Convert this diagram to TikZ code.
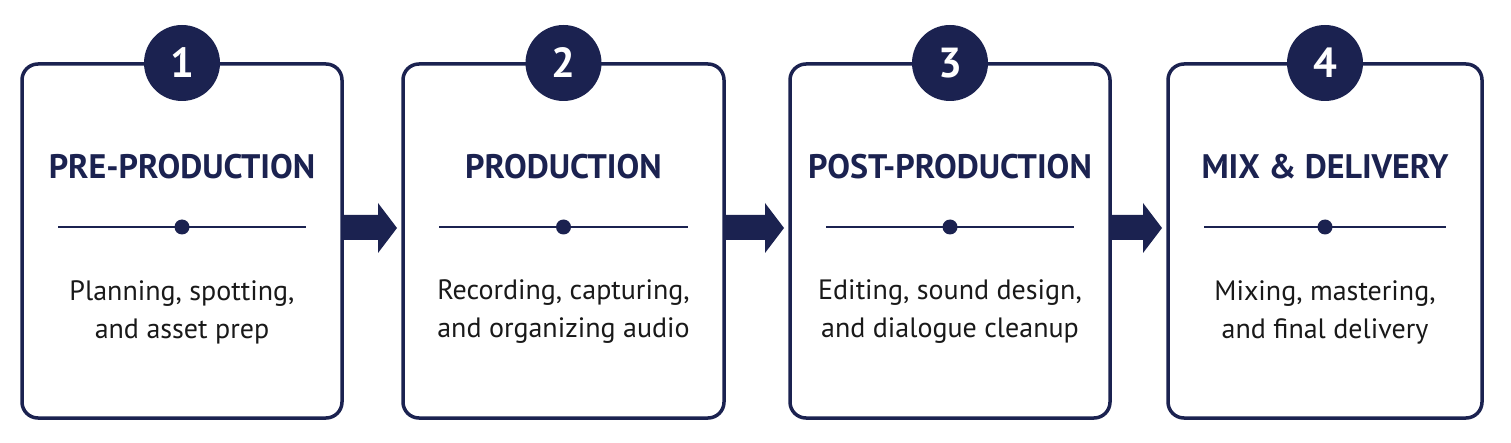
\documentclass[tikz,border=0pt]{standalone}
\usepackage{fontspec}
\setmainfont{PT Sans}
\begin{document}
\begin{tikzpicture}[x=1pt,y=-1pt,
  navy/.style={draw=nv,line width=3.5pt},
  box/.style={navy,rounded corners=16pt,fill=white},
  num/.style={circle,fill=nv,text=white,minimum size=76pt,inner sep=0pt,font=\fontsize{42}{42}\selectfont\bfseries},
  ttl/.style={text=nv,font=\fontsize{34}{34}\selectfont\bfseries},
  body/.style={text=black!90,align=center,font=\fontsize{28}{38}\selectfont},
  arr/.style={fill=nv}]
\definecolor{nv}{HTML}{1B2250}
\useasboundingbox[fill=white] (0,0) rectangle (1511,443);
\foreach \i/\l/\r/\t/\b in {1/22/342/PRE-PRODUCTION/{Planning, spotting,\\and asset prep},
  2/403/724/PRODUCTION/{Recording, capturing,\\and organizing audio},
  3/790/1110/POST-PRODUCTION/{Editing, sound design,\\and dialogue cleanup},
  4/1168/1482/MIX \& DELIVERY/{Mixing, mastering,\\and final delivery}}{
  \draw[box] (\l,64) rectangle (\r,418);
  \node[num] (n\i) at ({(\l+\r)/2},63) {\i};
  \node[ttl] (t\i) at ({(\l+\r)/2},167) {\t};
  \draw[draw=nv,line width=2pt] (\l+36,227) -- (\r-36,227);
  \node[circle,fill=nv,minimum size=15pt,inner sep=0pt] (d\i) at ({(\l+\r)/2},227) {};
  \node[body] (b\i) at ({(\l+\r)/2},312) {\b};
}
\foreach \a/\b in {342/403,724/790,1110/1168}{
  \fill[nv] (\a,215) -- (\b-25,215) -- (\b-25,203) -- (\b-6,228) -- (\b-25,253) -- (\b-25,240) -- (\a,240) -- cycle;
}
\end{tikzpicture}
\end{document}
